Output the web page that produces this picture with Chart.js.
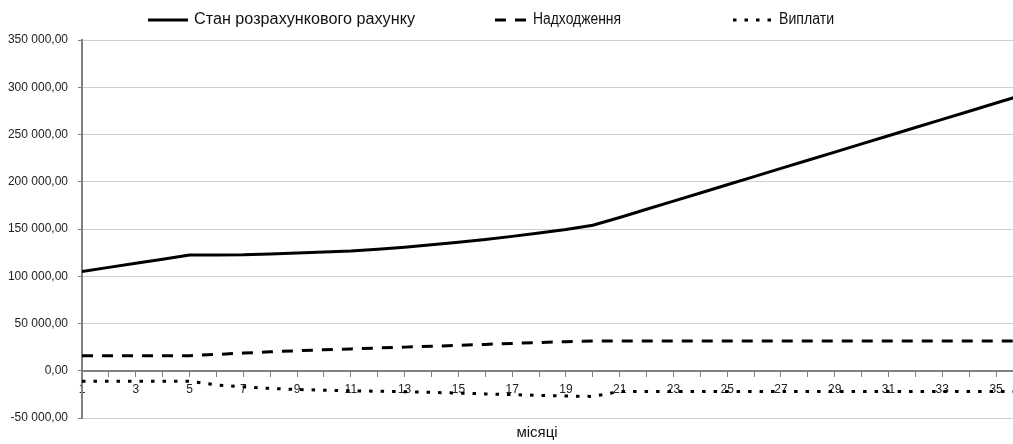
<!DOCTYPE html>
<html>
<head>
<meta charset="utf-8">
<script src="https://cdn.jsdelivr.net/npm/chart.js@4.4.0/dist/chart.umd.min.js"></script>
<style>
  html, body { margin: 0; padding: 0; background: #fff; }
  #wrap { position: relative; width: 1013px; height: 444px; overflow: hidden; }
  #chart { position: absolute; left: 0; top: 0; }
  .lg { position: absolute; top: 8px; height: 22px; display: flex; align-items: center;
        font: 16px 'Liberation Sans', Arial, sans-serif; color: #111; white-space: nowrap; }
  .lg svg { margin-right: 6px; display: block; }
  .lg span { display: inline-block; transform-origin: 0 50%; }
  #xtitle { position: absolute; top: 424px; left: 437px; width: 200px; text-align: center;
            font: 15px 'Liberation Sans', Arial, sans-serif; color: #111; line-height: 16px; }
</style>
</head>
<body>
<div id="wrap">
  <canvas id="chart" width="1013" height="444"></canvas>
  <div id="legend"></div>
  <div id="xtitle"></div>
</div>
<script>
// Months of the plan
const months = [1, 2, 3, 4, 5, 6, 7, 8, 9, 10, 11, 12, 13, 14, 15, 16, 17, 18,
                19, 20, 21, 22, 23, 24, 25, 26, 27, 28, 29, 30, 31, 32, 33, 34, 35, 36];

// Current account balance
const balance = [105000, 109400, 113800, 118100, 122400, 122500, 122700, 123600, 124500,
                 125600, 126800, 128700, 130800, 133300, 136000, 139000, 142200, 145700,
                 149500, 154000, 162200, 170850, 179500, 188150, 196800, 205450, 214100,
                 222750, 231400, 240050, 248700, 257350, 266000, 274650, 283300, 291950];

// Receipts
const receipts = [16000, 16000, 16000, 16000, 16000, 17300, 18700, 20000, 21200,
                  22200, 23100, 24100, 25000, 25900, 26900, 27900, 28900, 29900,
                  30800, 31500, 31500, 31500, 31500, 31500, 31500, 31500, 31500,
                  31500, 31500, 31500, 31500, 31500, 31500, 31500, 31500, 31500];

// Payments
const payments = [-11000, -11000, -11000, -11000, -11000, -15000, -17000, -18700, -19800,
                  -20600, -21200, -21700, -22200, -22900, -23600, -24500, -25300, -26000,
                  -26700, -27200, -22000, -22000, -22000, -22000, -22000, -22000, -22000,
                  -22000, -22000, -22000, -22000, -22000, -22000, -22000, -22000, -22000];

const seriesNames = ['Стан розрахункового рахунку', 'Надходження', 'Виплати'];
const axisTitle = 'місяці';

const FONT = "'Liberation Sans', Arial, sans-serif";

function fmtMoney(v) {
  const s = Math.abs(Math.round(v)).toString().replace(/\B(?=(\d{3})+(?!\d))/g, ' ');
  return (v < 0 ? '-' : '') + s + ',00';
}

function points(values) {
  return months.map((m, i) => ({ x: m, y: values[i] }));
}

const styles = [
  { dash: [], sample: 40, textWidth: 221 },
  { dash: [11, 9], sample: 32, textWidth: 88 },
  { dash: [3.5, 8], sample: 40, textWidth: 55 }
];

const datasets = [balance, receipts, payments].map((vals, i) => ({
  label: seriesNames[i],
  data: points(vals),
  borderColor: '#000',
  borderWidth: 3,
  borderDash: styles[i].dash,
  borderCapStyle: 'butt',
  pointRadius: 0,
  tension: 0,
  fill: false
}));

new Chart(document.getElementById('chart'), {
  type: 'line',
  data: { datasets },
  options: {
    responsive: false,
    animation: false,
    devicePixelRatio: 1,
    layout: { padding: { top: 40, bottom: 26, left: 0, right: 0 } },
    plugins: { legend: { display: false }, tooltip: { enabled: false } },
    scales: {
      x: {
        type: 'linear',
        min: 1,
        max: 35.63,
        position: { y: 0 },
        ticks: {
          stepSize: 1,
          includeBounds: false,
          autoSkip: false,
          maxRotation: 0,
          padding: 7,
          color: '#222',
          font: { family: FONT, size: 12 },
          callback: v => (Number.isInteger(v) && v % 2 === 1) ? String(v) : ''
        },
        grid: { drawOnChartArea: false, drawTicks: true, tickLength: 5, color: '#808080', lineWidth: 1 },
        border: { color: '#808080', width: 2 }
      },
      y: {
        min: -50000,
        max: 350000,
        ticks: {
          stepSize: 50000,
          padding: 10,
          color: '#222',
          font: { family: FONT, size: 12 },
          callback: v => fmtMoney(v)
        },
        grid: { color: '#cfcfcf', lineWidth: 1, tickLength: 4, tickColor: '#808080' },
        border: { color: '#808080', width: 2 },
        afterFit: s => { s.width = 82; }
      }
    }
  }
});

// Legend row
const legendLeft = [148, 495, 733];
const legendBox = document.getElementById('legend');
datasets.forEach((ds, i) => {
  const item = document.createElement('div');
  item.className = 'lg';
  item.style.left = legendLeft[i] + 'px';
  const w = styles[i].sample;
  const dash = styles[i].dash.length ? ` stroke-dasharray="${styles[i].dash.join(' ')}"` : '';
  item.innerHTML =
    `<svg width="${w}" height="22"><line x1="0" y1="12" x2="${w}" y2="12" stroke="#000" stroke-width="3"${dash}/></svg>`;
  const label = document.createElement('span');
  label.textContent = ds.label;
  item.appendChild(label);
  legendBox.appendChild(item);
  const natural = label.getBoundingClientRect().width;
  label.style.transform = `scaleX(${styles[i].textWidth / natural})`;
});
document.getElementById('xtitle').textContent = axisTitle;
</script>
</body>
</html>
